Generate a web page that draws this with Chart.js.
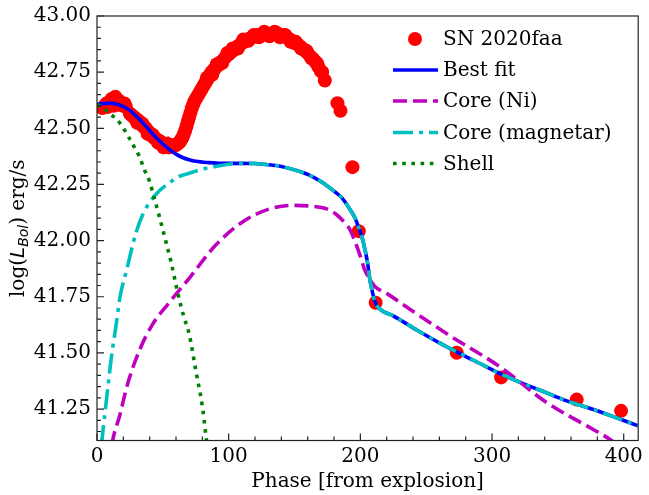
<!DOCTYPE html>
<html><head><meta charset="utf-8">
<script src="https://cdn.jsdelivr.net/npm/chart.js@4.4.1/dist/chart.umd.min.js"></script>
<style>html,body{margin:0;padding:0;background:#fff;}#wrap{width:649px;height:495px;}</style>
</head><body><div id="wrap"><canvas id="c" width="649" height="495"></canvas></div>
<script>
// ---- Data ----
const snPhase = [4,6,7,8,9,10,11,12,12.5,13,14,15,16,16.5,17,18,19,20,21,22,
  25,26,27,28,29,30,30.5,31,32,33,34,34.5,35,36,37,38,38.5,39,40,41,42,42.5,43,44,45,46,46.5,47,48,49,50,50.5,51,52,53,54,54.5,55,56,57,58,59,
  60,61,62,63,64,65,66,67,68,69,70,71,72,73,74,75,76,77,78,79,80,81,82,83,83.5,84,85,86,87,87.5,88,89,90,91,92,94,95,96,98,99,100,
  102,103,104,106,107,108,110,111,112,114,115,116,118,119,120,122,123,124,126,127,128,130,131,132,134,135,136,138,139,140,142,143,144,146,147,148,150,
  151,152,154,155,156,158,159,160,162,163,164,166,167,168,170,171,173,
  182.6,184.9,194,198.8,211.6,273.2,306.9,364.3,398];
const snLogL = [42.59,42.60,42.61,42.595,42.615,42.62,42.63,42.625,42.60,42.635,42.64,42.63,42.625,42.605,42.62,42.61,42.605,42.60,42.61,42.595,
  42.565,42.56,42.555,42.55,42.545,42.54,42.525,42.535,42.53,42.525,42.515,42.52,42.51,42.505,42.50,42.49,42.475,42.485,42.48,42.47,42.465,42.47,42.46,42.455,42.45,42.448,42.435,42.445,42.44,42.435,42.435,42.415,42.43,42.43,42.425,42.43,42.415,42.425,42.42,42.425,42.42,42.425,
  42.425,42.43,42.435,42.44,42.45,42.46,42.475,42.49,42.51,42.53,42.55,42.57,42.59,42.605,42.62,42.63,42.64,42.65,42.66,42.67,42.68,42.69,42.70,42.71,42.725,42.72,42.73,42.74,42.75,42.738,42.755,42.762,42.77,42.785,42.78,42.795,42.79,42.805,42.82,42.835,42.83,
  42.84,42.855,42.85,42.86,42.855,42.87,42.88,42.895,42.885,42.895,42.89,42.90,42.905,42.915,42.91,42.915,42.905,42.912,42.92,42.93,42.918,42.92,42.91,42.918,42.922,42.93,42.925,42.92,42.905,42.915,42.912,42.915,42.905,42.898,42.885,42.89,42.88,
  42.885,42.875,42.865,42.855,42.855,42.845,42.845,42.835,42.82,42.81,42.81,42.795,42.79,42.775,42.755,42.75,42.713,
  42.612,42.578,42.327,42.042,41.723,41.501,41.391,41.292,41.242];
const errPhase = [11,13,14,30,36,44,48,50,52,54,56,58,182.6];
const errLogL  = [42.63,42.635,42.64,42.54,42.505,42.455,42.435,42.435,42.43,42.43,42.42,42.42,42.612];
const errSize  = [0.02,0.03,0.025,0.02,0.02,0.02,0.03,0.035,0.03,0.035,0.03,0.025,0.015];

const fitPhase = [0,5,10,15,20,25,30,35,40,45,50,55,60,65,70,75,85,95,110,120,130,140,150,160,170,180,186,192,196,198,201,203.5,205.5,207,209,211,214,225,243.5,260,276,290,309,325,339,355,377,395,411];
const fitLogL  = [42.607,42.61,42.612,42.607,42.597,42.58,42.553,42.523,42.49,42.458,42.43,42.405,42.385,42.37,42.36,42.353,42.347,42.344,42.344,42.343,42.338,42.33,42.315,42.295,42.263,42.22,42.19,42.14,42.10,42.07,42.02,41.96,41.90,41.835,41.775,41.73,41.70,41.665,41.60,41.545,41.496,41.455,41.40,41.36,41.328,41.29,41.248,41.21,41.175];

const niPhase = [11.4,12.1,17.1,23.4,32.2,42.3,55,70,90,110,130,150,165,175,182,188,192,196,200,203.3,207,211,220,236,266,306,342,372,389.4,393];
const niLogL  = [41.09,41.116,41.218,41.365,41.511,41.628,41.725,41.832,41.979,42.081,42.139,42.157,42.152,42.14,42.115,42.081,42.05,41.995,41.93,41.87,41.83,41.796,41.765,41.701,41.584,41.438,41.277,41.175,41.116,41.10];

const magPhase = [3.4,5,6,8.3,10.9,14.6,17.5,22.2,29.7,35,39.8,47,54.9,62,70,80,90,100,110,120,130,140,150,160,170,180,186,192,196,198,201,203.5,205.5,207,209,211,214,225,243.5,260,276,290,309,325,339,355,377,395,411];
const magLogL  = [41.09,41.18,41.23,41.35,41.48,41.628,41.75,41.862,42.037,42.12,42.169,42.22,42.257,42.285,42.30,42.318,42.33,42.34,42.344,42.343,42.338,42.33,42.315,42.295,42.263,42.22,42.19,42.14,42.10,42.07,42.02,41.96,41.90,41.835,41.775,41.73,41.70,41.665,41.60,41.545,41.496,41.455,41.40,41.36,41.328,41.29,41.248,41.21,41.175];

const shellPhase = [0,2,5,9.6,14,18.4,24.7,28,32.2,36,39.8,43.4,47,49.8,53,56.2,59,62.4,66,70,75,80,82.6,83.6];
const shellLogL  = [42.607,42.6,42.59,42.564,42.545,42.515,42.454,42.42,42.374,42.315,42.265,42.19,42.115,42.052,41.98,41.906,41.83,41.74,41.66,41.584,41.423,41.262,41.138,41.09];

const xTicks = [0,100,200,300,400];
const xMinor = [20,40,60,80,120,140,160,180,220,240,260,280,320,340,360,380];
const yTicks = [41.25,41.50,41.75,42.00,42.25,42.50,42.75,43.00];
const yMinor = [41.15,41.20,41.30,41.35,41.40,41.45,41.55,41.60,41.65,41.70,41.80,41.85,41.90,41.95,42.05,42.10,42.15,42.20,42.30,42.35,42.40,42.45,42.55,42.60,42.65,42.70,42.80,42.85,42.90,42.95];
const seriesNames = ['SN 2020faa','Best fit','Core (Ni)','Core (magnetar)','Shell'];

// ---- Build ----
const pts = (xs, ys) => xs.map((x, i) => ({x: x, y: ys[i]}));
const SERIF = "'DejaVu Serif', serif";
const C = {red:'#ff0000', blue:'#0000ff', mag:'#bf00bf', cyan:'#00bfbf', green:'#008000'};
const LW = 3.6;
const styles = [
  null,
  {color:C.blue, dash:[]},
  {color:C.mag, dash:[14,6]},
  {color:C.cyan, dash:[20,6,4,6]},
  {color:C.green, dash:[3.6,5.6]}
];

function lineDs(label, xs, ys, st, order) {
  return {label, data: pts(xs, ys), showLine: true, pointRadius: 0, borderColor: st.color,
    borderWidth: LW, borderDash: st.dash, fill: false, cubicInterpolationMode: 'monotone',
    order, borderCapStyle: 'butt'};
}

const decor = {
  id: 'decor',
  beforeDatasetsDraw(chart) {
    const {ctx, scales: {x, y}, chartArea: a} = chart;
    ctx.save();
    ctx.beginPath(); ctx.rect(a.left, a.top, a.right - a.left, a.bottom - a.top); ctx.clip();
    ctx.strokeStyle = C.red; ctx.lineWidth = 1.5;
    errPhase.forEach((p, i) => {
      const px = x.getPixelForValue(p);
      ctx.beginPath();
      ctx.moveTo(px, y.getPixelForValue(errLogL[i] - errSize[i]));
      ctx.lineTo(px, y.getPixelForValue(errLogL[i] + errSize[i]));
      ctx.stroke();
    });
    ctx.restore();
  },
  afterDraw(chart) {
    const {ctx, scales: {x, y}, chartArea: a} = chart;
    ctx.save();
    ctx.strokeStyle = '#222'; ctx.lineWidth = 1.2;
    ctx.strokeRect(a.left, a.top, a.right - a.left, a.bottom - a.top);
    ctx.beginPath();
    xTicks.forEach(v => { const p = x.getPixelForValue(v); ctx.moveTo(p, a.bottom); ctx.lineTo(p, a.bottom - 7); });
    xMinor.forEach(v => { const p = x.getPixelForValue(v); ctx.moveTo(p, a.bottom); ctx.lineTo(p, a.bottom - 4); });
    yTicks.forEach(v => { const p = y.getPixelForValue(v); ctx.moveTo(a.left, p); ctx.lineTo(a.left + 7, p); });
    yMinor.forEach(v => { const p = y.getPixelForValue(v); ctx.moveTo(a.left, p); ctx.lineTo(a.left + 4, p); });
    ctx.stroke();

    // x axis title
    ctx.fillStyle = '#000';
    ctx.font = '20px ' + SERIF;
    ctx.textAlign = 'center'; ctx.textBaseline = 'alphabetic';
    ctx.fillText('Phase [from explosion]', (a.left + a.right) / 2, 487);

    // y axis title with subscript
    ctx.save();
    ctx.translate(17, (a.top + a.bottom) / 2);
    ctx.rotate(-Math.PI / 2);
    const parts = [
      {t: 'log(', f: '20px ' + SERIF, dy: 0},
      {t: 'L', f: "italic 20px 'DejaVu Sans'", dy: 0},
      {t: 'Bol', f: "italic 14px 'DejaVu Sans'", dy: 4},
      {t: ') erg/s', f: '20px ' + SERIF, dy: 0}
    ];
    let w = 0;
    parts.forEach(p => { ctx.font = p.f; p.w = ctx.measureText(p.t).width; w += p.w; });
    let cx = -w / 2;
    ctx.textAlign = 'left';
    parts.forEach(p => { ctx.font = p.f; ctx.fillText(p.t, cx, 7 + p.dy); cx += p.w; });
    ctx.restore();

    // legend
    const ly = [39, 70, 101, 132.5, 163.5];
    ctx.font = '20px ' + SERIF; ctx.textAlign = 'left'; ctx.textBaseline = 'middle';
    ctx.fillStyle = C.red;
    ctx.beginPath(); ctx.arc(415, ly[0], 7, 0, Math.PI * 2); ctx.fill();
    for (let i = 1; i < 5; i++) {
      ctx.strokeStyle = styles[i].color; ctx.lineWidth = LW; ctx.setLineDash(styles[i].dash);
      ctx.lineCap = 'butt';
      ctx.beginPath(); ctx.moveTo(393, ly[i]); ctx.lineTo(438, ly[i]); ctx.stroke();
    }
    ctx.setLineDash([]);
    ctx.fillStyle = '#000';
    seriesNames.forEach((n, i) => ctx.fillText(n, 443, ly[i] + 1));
    ctx.restore();
  }
};

new Chart(document.getElementById('c'), {
  type: 'scatter',
  data: {
    datasets: [
      {label: seriesNames[0], data: pts(snPhase, snLogL), pointRadius: 7, pointHoverRadius: 7,
        backgroundColor: C.red, borderWidth: 0, pointBorderWidth: 0, showLine: false, order: 10},
      lineDs(seriesNames[1], fitPhase, fitLogL, styles[1], 4),
      lineDs(seriesNames[2], niPhase, niLogL, styles[2], 3),
      lineDs(seriesNames[3], magPhase, magLogL, styles[3], 2),
      lineDs(seriesNames[4], shellPhase, shellLogL, styles[4], 1)
    ]
  },
  options: {
    responsive: false, animation: false, devicePixelRatio: 1,
    layout: {padding: {top: 11, right: 7.3, left: 0, bottom: 0}},
    plugins: {legend: {display: false}, tooltip: {enabled: false}},
    scales: {
      x: {type: 'linear', min: 0, max: 411,
        afterBuildTicks: s => { s.ticks = xTicks.map(v => ({value: v})); },
        afterFit: s => { s.height = 54.5; },
        grid: {display: false, drawTicks: false}, border: {display: false},
        ticks: {font: {family: SERIF, size: 20, lineHeight: 1}, color: '#000', padding: 6, maxRotation: 0,
          callback: v => String(v)}},
      y: {type: 'linear', min: 41.11, max: 43.0,
        afterBuildTicks: s => { s.ticks = yTicks.map(v => ({value: v})); },
        afterFit: s => { s.width = 97; },
        grid: {display: false, drawTicks: false}, border: {display: false},
        ticks: {font: {family: SERIF, size: 20, lineHeight: 1}, color: '#000', padding: 6,
          callback: v => Number(v).toFixed(2)}}
    }
  },
  plugins: [decor]
});
</script></body></html>
